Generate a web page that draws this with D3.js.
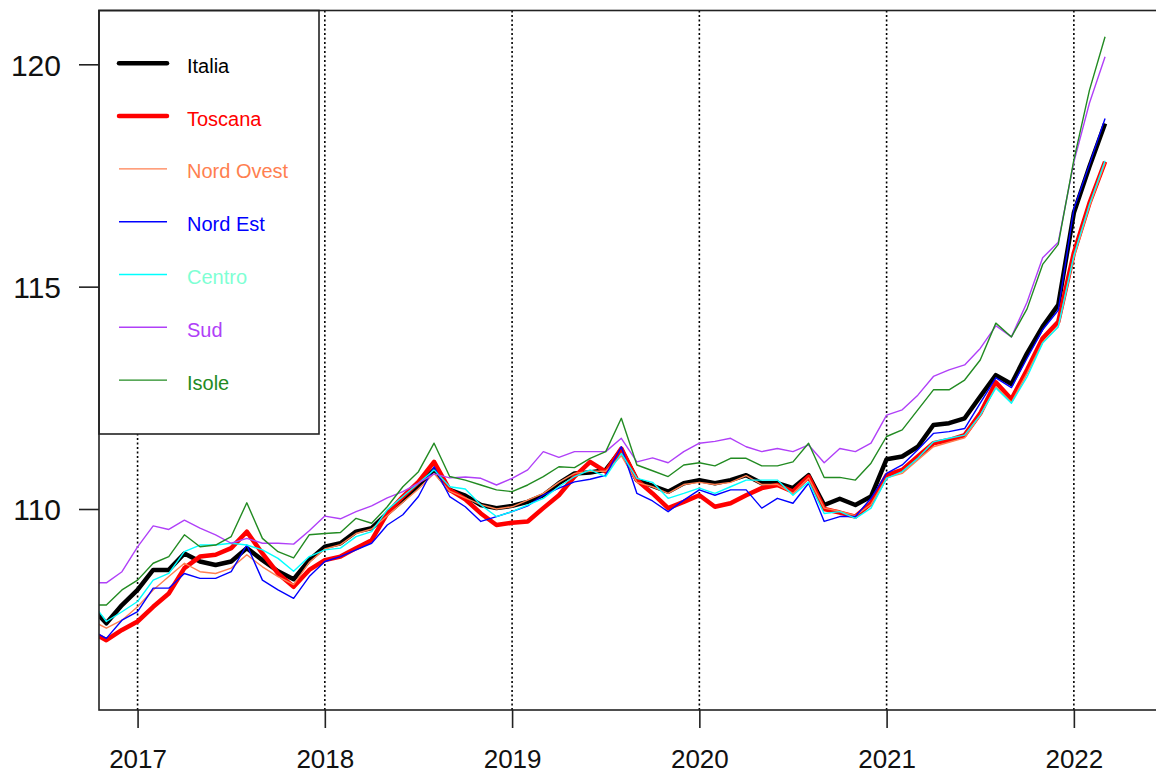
<!DOCTYPE html>
<html>
<head>
<meta charset="UTF-8">
<script src="https://cdn.jsdelivr.net/npm/d3@7"></script>
<style>
  body { margin: 0; background: #fff; }
  text { font-family: Arial, "Liberation Sans", sans-serif; }
  .grid { stroke: #000; stroke-width: 1.6; stroke-dasharray: 2,2.5; }
  .frame { fill: none; stroke: #222; stroke-width: 1.6; }
  .axis text { fill: #111; }
  .axis line { stroke: #222; stroke-width: 1.6; }
  .axis path { display: none; }
  .series { fill: none; stroke-linejoin: round; }
</style>
</head>
<body>
<svg id="chart" width="1156" height="776"></svg>
<script>
// months Oct 2016 - Mar 2022
const months = [
  "2016-10","2016-11","2016-12",
  "2017-01","2017-02","2017-03","2017-04","2017-05","2017-06","2017-07","2017-08","2017-09","2017-10","2017-11","2017-12",
  "2018-01","2018-02","2018-03","2018-04","2018-05","2018-06","2018-07","2018-08","2018-09","2018-10","2018-11","2018-12",
  "2019-01","2019-02","2019-03","2019-04","2019-05","2019-06","2019-07","2019-08","2019-09","2019-10","2019-11","2019-12",
  "2020-01","2020-02","2020-03","2020-04","2020-05","2020-06","2020-07","2020-08","2020-09","2020-10","2020-11","2020-12",
  "2021-01","2021-02","2021-03","2021-04","2021-05","2021-06","2021-07","2021-08","2021-09","2021-10","2021-11","2021-12",
  "2022-01","2022-02","2022-03"
];

const italia = [107.80,107.43,107.84,108.18,108.63,108.63,109.00,108.82,108.74,108.82,109.12,108.85,108.60,108.42,108.85,
  109.15,109.23,109.49,109.57,109.90,110.20,110.54,110.88,110.43,110.30,110.09,110.02,110.07,110.16,110.31,110.58,110.80,
  110.82,110.88,111.33,110.65,110.52,110.39,110.58,110.65,110.58,110.65,110.76,110.58,110.58,110.47,110.76,110.09,110.23,
  110.09,110.28,111.12,111.18,111.40,111.89,111.93,112.04,112.53,113.01,112.81,113.50,114.10,114.59,116.66,117.70,118.67];

const toscana = [107.24,107.05,107.28,107.47,107.80,108.10,108.67,108.93,108.97,109.12,109.49,109.00,108.55,108.25,108.63,
  108.85,108.93,109.12,109.30,109.90,110.28,110.61,111.06,110.43,110.22,109.90,109.64,109.69,109.72,110.02,110.31,110.73,
  111.06,110.84,111.36,110.65,110.35,110.02,110.16,110.31,110.05,110.13,110.31,110.47,110.54,110.39,110.73,110.00,109.92,
  109.83,110.13,110.76,110.88,111.18,111.48,111.55,111.66,112.15,112.85,112.47,113.13,113.84,114.21,115.76,116.88,117.81];

const nordOvest = [107.50,107.32,107.50,107.80,108.18,108.48,108.78,108.59,108.55,108.67,108.97,108.70,108.48,108.30,108.80,
  109.10,109.20,109.45,109.55,109.85,110.15,110.45,110.80,110.40,110.25,110.10,110.00,110.05,110.20,110.35,110.60,110.80,
  110.85,110.85,111.20,110.60,110.50,110.35,110.55,110.60,110.55,110.60,110.75,110.55,110.55,110.35,110.70,110.02,109.95,
  109.85,110.10,110.70,110.80,111.10,111.40,111.50,111.60,112.10,112.75,112.40,113.05,113.75,114.10,115.65,116.80,117.78];

const nordEst = [107.28,107.09,107.50,107.69,108.22,108.22,108.55,108.44,108.44,108.59,109.19,108.40,108.18,107.99,108.48,
  108.82,108.93,109.08,109.23,109.64,109.87,110.28,110.95,110.28,110.05,109.72,109.83,109.94,110.07,110.31,110.47,110.61,
  110.67,110.76,111.40,110.35,110.18,109.94,110.20,110.43,110.31,110.43,110.43,110.02,110.24,110.13,110.58,109.72,109.83,
  109.83,110.24,110.80,110.99,111.33,111.70,111.74,111.81,112.38,112.95,112.73,113.39,114.03,114.47,116.75,117.75,118.78];

const centro = [107.94,107.47,107.69,107.92,108.40,108.55,109.04,109.19,109.19,109.23,109.19,109.08,108.89,108.60,108.93,
  109.08,109.12,109.38,109.49,109.98,110.28,110.58,110.88,110.50,110.45,110.09,109.83,109.94,110.09,110.24,110.50,110.73,
  110.88,110.73,111.25,110.69,110.60,110.24,110.35,110.47,110.35,110.50,110.65,110.65,110.65,110.31,110.61,109.90,109.94,
  109.79,110.02,110.69,110.84,111.14,111.51,111.59,111.66,112.11,112.72,112.38,112.97,113.73,114.10,115.70,116.85,117.83];

const sud = [108.34,108.34,108.59,109.15,109.62,109.54,109.75,109.57,109.42,109.23,109.34,109.23,109.23,109.21,109.51,
  109.84,109.78,109.94,110.07,110.25,110.39,110.58,110.79,110.70,110.72,110.69,110.54,110.69,110.88,111.29,111.16,111.29,
  111.29,111.29,111.59,111.06,111.15,111.04,111.29,111.48,111.52,111.59,111.40,111.29,111.36,111.29,111.44,111.04,111.36,
  111.29,111.48,112.11,112.23,112.56,112.98,113.13,113.24,113.61,114.12,113.87,114.65,115.65,116.00,117.80,119.13,120.17];

const isole = [107.84,107.84,108.18,108.40,108.78,108.93,109.42,109.15,109.19,109.38,110.14,109.34,109.04,108.90,109.42,
  109.45,109.47,109.79,109.68,110.05,110.50,110.84,111.48,110.73,110.65,110.54,110.43,110.39,110.54,110.73,110.95,110.93,
  111.14,111.29,112.04,110.99,110.86,110.73,110.99,111.04,110.97,111.14,111.14,110.97,110.97,111.06,111.48,110.71,110.71,
  110.65,111.03,111.63,111.78,112.23,112.68,112.68,112.90,113.35,114.18,113.87,114.50,115.50,115.95,117.85,119.42,120.62];

const seriesNames = ["Italia", "Toscana", "Nord Ovest", "Nord Est", "Centro", "Sud", "Isole"];
const yearTicks = [2017, 2018, 2019, 2020, 2021, 2022];
const valueTicks = [110, 115, 120];

const lineColors = ["#000000", "#ff0000", "#ff7f50", "#0000ff", "#00ffff", "#b040f8", "#228b22"];
const textColors = ["#000000", "#ff0000", "#ff7f50", "#0000ff", "#7fffd4", "#b040f8", "#228b22"];
const lineWidths = [4.5, 4.5, 1.4, 1.4, 1.4, 1.4, 1.4];

const svg = d3.select("svg#chart");
const plot = {left: 99, top: 10.5, right: 1160, bottom: 710};

// decimal years like an R ts
const t = months.map(m => +m.slice(0, 4) + (+m.slice(5) - 1) / 12);

const x = d3.scaleLinear().domain([2016.794, 2022.46]).range([plot.left, plot.right]);
const y = d3.scaleLinear().domain([105.48, 121.21]).range([plot.bottom, plot.top]);

svg.append("defs").append("clipPath").attr("id", "clip")
  .append("rect")
  .attr("x", plot.left).attr("y", plot.top)
  .attr("width", plot.right - plot.left).attr("height", plot.bottom - plot.top);

// dotted year lines
svg.selectAll("line.grid")
  .data(yearTicks)
  .enter()
  .append("line")
  .attr("class", "grid")
  .attr("x1", d => x(d)).attr("x2", d => x(d))
  .attr("y1", plot.top).attr("y2", plot.bottom);

const allSeries = [italia, toscana, nordOvest, nordEst, centro, sud, isole];
const line = d3.line().x((d, i) => x(t[i])).y(d => y(d));

svg.append("g")
  .attr("clip-path", "url(#clip)")
  .selectAll("path")
  .data(allSeries)
  .enter()
  .append("path")
  .attr("class", "series")
  .attr("d", line)
  .attr("stroke", (d, i) => lineColors[i])
  .attr("stroke-width", (d, i) => lineWidths[i]);

// legend
const legend = svg.append("g");
legend.append("rect")
  .attr("x", plot.left).attr("y", plot.top)
  .attr("width", 220).attr("height", 423.5)
  .attr("fill", "#fff").attr("stroke", "#222").attr("stroke-width", 1.6);

const rows = legend.selectAll("g.row")
  .data(seriesNames)
  .enter()
  .append("g")
  .attr("transform", (d, i) => `translate(0, ${63.3 + i * 52.8})`);

rows.append("line")
  .attr("x1", 119).attr("x2", 167)
  .attr("stroke", (d, i) => lineColors[i])
  .attr("stroke-width", (d, i) => lineWidths[i])
  .attr("stroke-linecap", (d, i) => lineWidths[i] > 2 ? "round" : "butt");

rows.append("text")
  .attr("x", 187).attr("y", 9.5)
  .attr("font-size", 20)
  .attr("fill", (d, i) => textColors[i])
  .text(d => d);

// axes
svg.append("g")
  .attr("class", "axis")
  .attr("transform", `translate(0, ${plot.bottom})`)
  .call(d3.axisBottom(x).tickValues(yearTicks).tickFormat(d3.format("d")).tickSize(18).tickPadding(22))
  .call(g => g.selectAll("text").attr("font-size", 26));

svg.append("g")
  .attr("class", "axis")
  .attr("transform", `translate(${plot.left}, 0)`)
  .call(d3.axisLeft(y).tickValues(valueTicks).tickSize(20).tickPadding(18))
  .call(g => g.selectAll("text").attr("font-size", 30).attr("dy", "0.36em"));

svg.append("rect")
  .attr("class", "frame")
  .attr("x", plot.left).attr("y", plot.top)
  .attr("width", plot.right - plot.left).attr("height", plot.bottom - plot.top);
</script>
</body>
</html>
